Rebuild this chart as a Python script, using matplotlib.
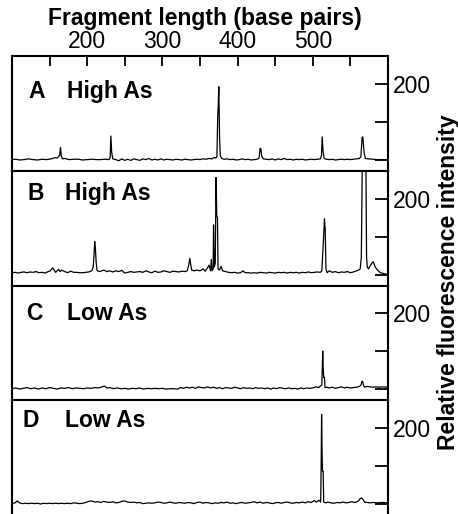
import matplotlib
matplotlib.use("Agg")
import matplotlib.pyplot as plt

plt.rcParams['font.family'] = ['Liberation Sans', 'DejaVu Sans']

# traces: (fragment length in bp, relative fluorescence)
trace_a = [
    (100, 0), (105, 1), (110, -1), (116, 0), (122, 2), (128, 0), (134, -1),
    (140, 1), (146, 0), (152, 2), (157, 5), (160, 4), (162, 8), (163.5, 12),
    (164.5, 32), (165.5, 10), (167, 2), (170, 3), (176, 0), (182, 1),
    (188, 1), (194, -1), (200, 0), (206, 1), (212, 0), (218, 0), (224, 1),
    (229, 0), (230.5, 5), (231.5, 62), (232.5, 20), (234, 2), (238, 0),
    (242, -3), (246, 2), (250, -2), (254, 1), (258, -2), (262, 2), (266, 0),
    (270, -2), (274, 2), (278, 0), (282, 3), (286, -1), (290, 1), (294, -1),
    (298, 2), (302, -1), (306, 1), (310, 0), (314, -1), (318, 1), (322, 0),
    (326, -1), (330, 1), (334, 0), (338, -1), (342, 0), (346, 1), (350, 0),
    (354, 2), (358, 1), (362, 3), (366, 2), (369, 6), (371, 4), (372.5, 8),
    (373.5, 110), (374.2, 140), (375, 192), (376, 60), (377, 10), (379, 3),
    (382, 1), (386, 2), (390, 0), (394, 1), (398, -1), (402, 0), (406, 2),
    (410, 0), (414, 1), (418, -1), (422, 0), (426, 1), (428.5, 4), (430, 30),
    (431, 28), (432, 10), (434, 2), (438, 1), (442, 0), (446, 2), (450, -1),
    (454, 2), (458, 0), (462, 3), (466, 0), (470, 1), (474, -1), (478, 1),
    (482, 0), (486, 1), (490, -1), (494, 0), (498, 1), (502, 0), (506, 1),
    (510, 2), (511.5, 10), (512.5, 60), (513.5, 25), (515, 3), (518, 1),
    (522, 0), (526, 1), (530, -1), (534, 0), (538, 1), (542, 0), (546, 1),
    (550, 0), (554, 1), (558, 2), (562, 3), (564, 8), (565.5, 58),
    (566.5, 60), (567.5, 35), (568.5, 15), (570, 3), (574, 2), (580, 1),
    (586, 0), (592, 0), (600, 0),
]

trace_b = [
    (100, 5), (104, 6), (108, 4), (112, 6), (116, 7), (120, 5), (124, 7),
    (128, 6), (132, 8), (136, 5), (140, 6), (144, 4), (148, 8), (151, 10),
    (154, 18), (156, 12), (158, 6), (160, 10), (162, 14), (164, 8),
    (166, 12), (170, 8), (174, 5), (178, 9), (182, 6), (186, 6), (190, 5),
    (194, 5), (198, 6), (202, 7), (206, 10), (208, 20), (209, 50), (210, 87),
    (211, 65), (212, 30), (213, 12), (215, 8), (218, 9), (222, 12), (226, 8),
    (230, 10), (234, 7), (238, 10), (242, 8), (246, 11), (250, 4), (254, 6),
    (258, 8), (262, 6), (266, 7), (270, 8), (274, 6), (278, 10), (282, 7),
    (286, 5), (290, 9), (294, 6), (298, 7), (302, 10), (306, 8), (310, 6),
    (314, 9), (318, 8), (322, 7), (326, 9), (330, 8), (333, 10), (335, 25),
    (336.5, 43), (337.5, 28), (339, 12), (342, 10), (346, 12), (350, 10),
    (354, 15), (357, 9), (360, 18), (362, 25), (364, 10), (365, 40),
    (366, 10), (367.5, 15), (368, 131), (369, 20), (370.3, 30), (371.3, 256),
    (372.3, 155), (373.2, 150), (374, 15), (376, 12), (378, 22), (380, 10),
    (384, 8), (388, 6), (392, 5), (396, 6), (400, 4), (404, 5), (407, 10),
    (410, 5), (414, 5), (418, 4), (422, 5), (426, 4), (430, 6), (434, 5),
    (438, 4), (442, 6), (446, 5), (450, 4), (454, 6), (458, 5), (462, 6),
    (466, 4), (470, 6), (474, 5), (478, 6), (482, 4), (486, 6), (490, 5),
    (494, 7), (498, 5), (502, 6), (506, 7), (510, 6), (512, 10), (514, 84),
    (515.5, 147), (516.5, 120), (517.5, 15), (519, 5), (522, 10), (526, 6),
    (530, 8), (534, 5), (538, 7), (542, 6), (546, 8), (550, 5), (554, 7),
    (558, 10), (561, 12), (563, 15), (564.5, 45), (566, 330), (568, 340),
    (570.5, 330), (571.5, 45), (572.5, 20), (574, 15), (576, 22),
    (578.5, 30), (580.5, 34), (583, 20), (586, 12), (590, 5), (594, 3),
    (600, 0),
]

trace_c = [
    (100, 0), (105, 2), (110, -1), (115, 1), (120, 3), (125, 0), (130, 2),
    (135, -1), (140, 2), (145, 0), (150, 3), (155, 1), (160, -1), (165, 2),
    (170, 1), (175, 3), (180, 0), (185, 2), (190, 1), (195, 0), (200, 2),
    (205, 1), (210, 3), (215, 2), (220, 5), (223, 7), (226, 2), (230, 3),
    (235, 0), (240, 2), (245, 0), (250, 1), (255, -1), (260, 1), (265, 0),
    (270, 2), (275, -1), (280, 1), (285, 0), (290, 1), (295, 0), (300, 1),
    (305, -1), (310, 0), (315, 0), (320, -1), (324, 3), (328, 1), (332, 4),
    (336, 2), (340, 4), (344, 1), (348, 5), (352, 3), (356, 2), (360, 5),
    (364, 2), (368, 4), (372, 1), (376, 3), (380, 0), (384, 3), (388, 2),
    (392, 1), (396, 4), (400, 2), (404, 0), (408, 3), (412, 1), (416, 2),
    (420, 0), (424, 3), (428, 1), (432, 2), (436, 0), (440, 2), (444, -1),
    (448, 2), (452, 0), (456, 3), (460, 1), (464, 0), (468, 2), (472, 0),
    (476, 1), (480, -1), (484, 2), (488, 0), (492, 2), (496, 1), (500, 2),
    (504, 5), (508, 3), (510.5, 8), (512, 10), (512.7, 60), (513.2, 100),
    (513.8, 55), (514.5, 30), (515.5, 30), (516.2, 3), (518, 4), (522, 2),
    (526, 4), (530, 1), (534, 3), (538, 5), (542, 2), (546, 4), (550, 2),
    (554, 3), (558, 4), (562, 6), (564, 10), (565.5, 20), (566.5, 18),
    (567.5, 8), (569, 4), (572, 6), (576, 5), (580, 4), (584, 5), (588, 4),
    (592, 5), (600, 4),
]

trace_d = [
    (100, 0), (104, 2), (107, 7), (110, 2), (114, 0), (118, 1), (122, 0),
    (126, 1), (130, 0), (134, 1), (138, -1), (142, 1), (146, 0), (150, 1),
    (154, 0), (158, 1), (162, 0), (166, 1), (170, 0), (174, 1), (178, 0),
    (182, 2), (186, 1), (190, 0), (194, 1), (198, 3), (202, 6), (206, 7),
    (210, 4), (214, 5), (218, 3), (222, 6), (226, 4), (230, 3), (234, 5),
    (238, 2), (242, 3), (246, 6), (250, 7), (254, 4), (258, 3), (262, 4),
    (266, 2), (270, 3), (274, 0), (278, 1), (282, 2), (286, 1), (290, 2),
    (294, 4), (298, 3), (302, 1), (306, 2), (310, 4), (314, 2), (318, 1),
    (322, 3), (326, 2), (330, 1), (334, 3), (338, 2), (342, 0), (346, 3),
    (350, 4), (354, 1), (358, 3), (362, 2), (366, 0), (370, 2), (374, 1),
    (378, 3), (382, 2), (386, 4), (390, 1), (394, 2), (398, 0), (402, 2),
    (406, 3), (410, 1), (414, 2), (418, 3), (422, 5), (426, 2), (430, 4),
    (434, 1), (438, 3), (442, 2), (446, 0), (450, 2), (454, 3), (458, 1),
    (462, 3), (466, 4), (470, 2), (474, 1), (478, 3), (482, 2), (486, 4),
    (490, 2), (494, 5), (498, 3), (502, 8), (505, 4), (508, 9), (510.5, 4),
    (511.2, 120), (511.7, 235), (512.3, 140), (512.9, 85), (513.8, 85),
    (514.5, 4), (517, 2), (520, 4), (524, 2), (528, 1), (532, 3), (536, 2),
    (540, 4), (544, 2), (548, 3), (552, 5), (556, 3), (560, 6), (563, 13),
    (565, 15), (567, 10), (569, 4), (572, 3), (576, 2), (580, 3), (586, 2),
    (592, 3), (600, 2),
]

traces = [trace_a, trace_b, trace_c, trace_d]
panel_letters = ['A', 'B', 'C', 'D']
panel_names = ['High As', 'High As', 'Low As', 'Low As']
x_major = [200, 300, 400, 500]
x_minor = [150, 250, 350, 450, 550]
y_ticks = [0, 100, 200]
y_labels = ['', '', '200']

W, H = 458, 514
fig = plt.figure(figsize=(W / 100, H / 100), dpi=100)

left, right = 12, 388
tops = [56, 171, 286, 400]
bots = [171, 286, 400, 515]
# where the panel label sits (axes fraction)
letter_x = [0.045, 0.041, 0.038, 0.027]
name_x = [0.146, 0.141, 0.146, 0.141]
label_y = [0.635, 0.748, 0.70, 0.765]

for i, trace in enumerate(traces):
    ax = fig.add_axes([left / W, 1 - bots[i] / H, (right - left) / W,
                       (bots[i] - tops[i]) / H])
    bp = [p[0] for p in trace]
    rfu = [p[1] for p in trace]
    ax.plot(bp, rfu, color='black', lw=0.9)
    ax.set_xlim(100, 600)
    ax.set_ylim(-30, 273)
    for s in ax.spines.values():
        s.set_linewidth(1.5)
    if i == 3:
        ax.spines['bottom'].set_visible(False)

    ax.yaxis.tick_right()
    ax.set_yticks(y_ticks)
    ax.set_yticklabels(y_labels)
    ax.tick_params(axis='y', direction='in', length=9.5, width=1.3,
                   labelsize=16.5, pad=3.5)

    if i == 0:
        ax.xaxis.tick_top()
        ax.set_xticks(x_major)
        ax.set_xticks(x_minor, minor=True)
        ax.tick_params(axis='x', which='both', direction='in', length=7.5,
                       width=1.3, labelsize=16.5, pad=2)
    else:
        ax.set_xticks([])

    ax.text(letter_x[i], label_y[i], panel_letters[i], transform=ax.transAxes,
            fontsize=16.5, fontweight='bold', va='baseline')
    ax.text(name_x[i], label_y[i], panel_names[i], transform=ax.transAxes,
            fontsize=16.5, fontweight='bold', va='baseline')

fig.text(205 / W, 1 - 25 / H, 'Fragment length (base pairs)', ha='center',
         va='baseline', fontsize=16.5, fontweight='bold')
fig.text(448 / W, 1 - 282 / H, 'Relative fluorescence intensity',
         rotation=90, ha='center', va='center', fontsize=16.5,
         fontweight='bold')

fig.savefig('out.png', dpi=100)
